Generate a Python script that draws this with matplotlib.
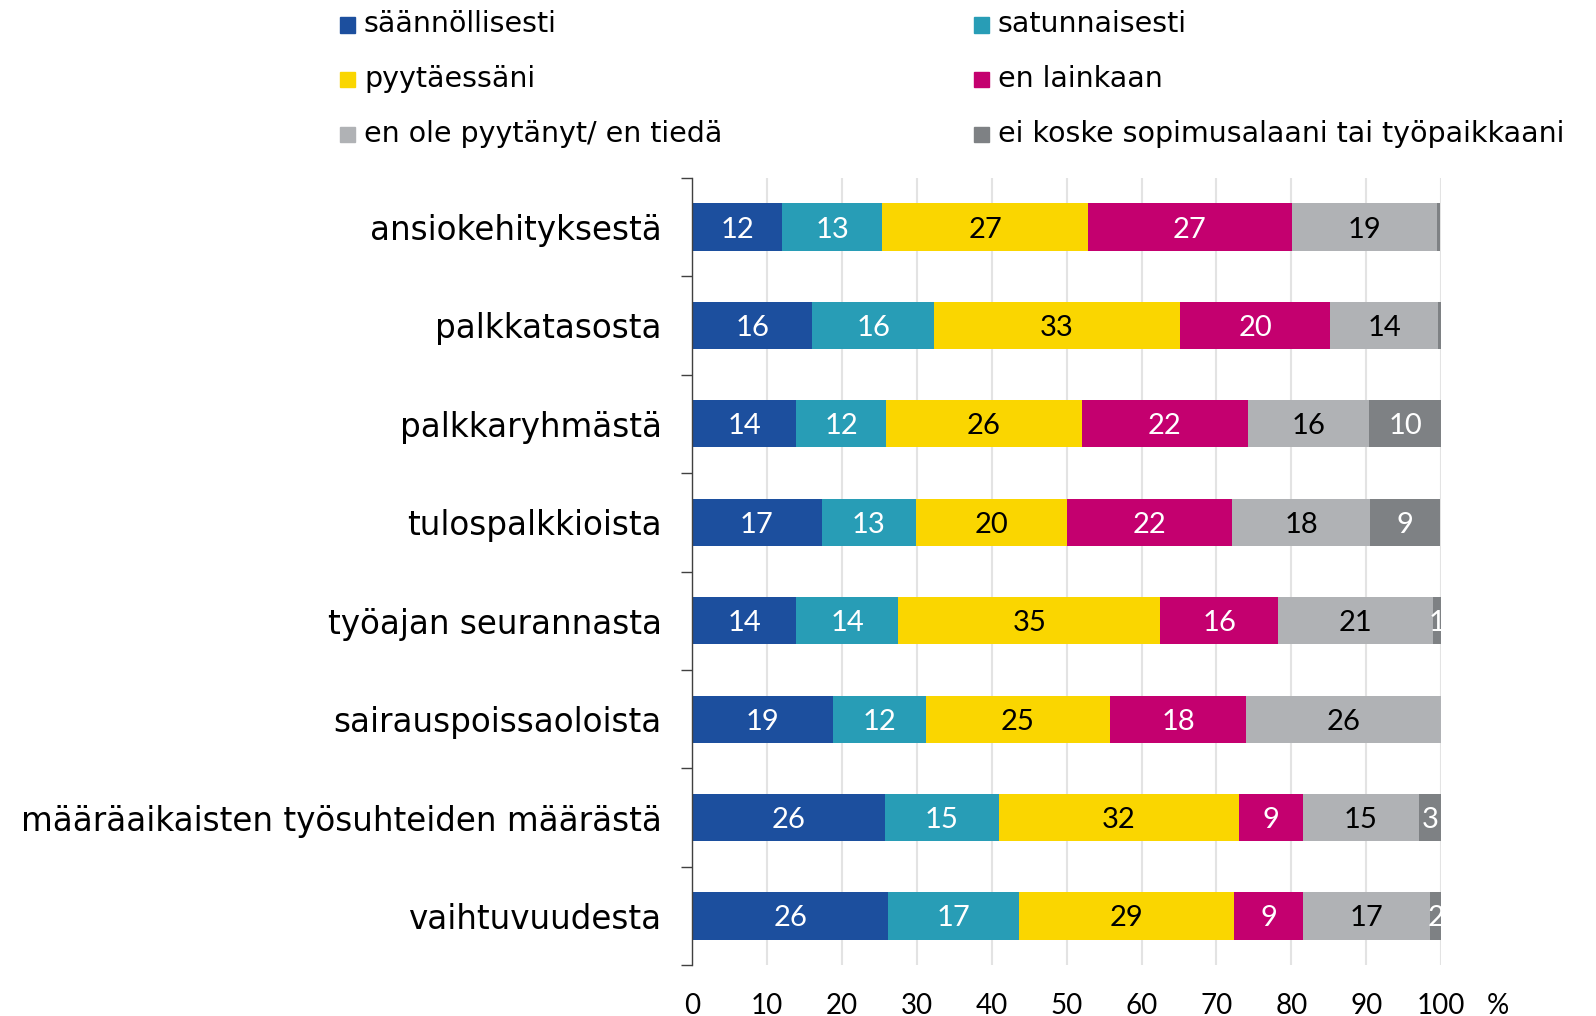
import numpy as np
import matplotlib
matplotlib.use("Agg")
import matplotlib.pyplot as plt
from matplotlib.patches import Rectangle

categories = [
    "ansiokehityksestä",
    "palkkatasosta",
    "palkkaryhmästä",
    "tulospalkkioista",
    "työajan seurannasta",
    "sairauspoissaoloista",
    "määräaikaisten työsuhteiden määrästä",
    "vaihtuvuudesta",
]
series_names = [
    "säännöllisesti",
    "satunnaisesti",
    "pyytäessäni",
    "en lainkaan",
    "en ole pyytänyt/ en tiedä",
    "ei koske sopimusalaani tai työpaikkaani",
]
saannollisesti = [12.0, 16.0, 13.9, 17.3, 13.9, 18.8, 25.7, 26.2]
satunnaisesti = [13.4, 16.3, 12.0, 12.6, 13.6, 12.4, 15.2, 17.4]
pyytaessani = [27.4, 32.8, 26.1, 20.1, 35.0, 24.6, 32.1, 28.8]
en_lainkaan = [27.3, 20.1, 22.2, 22.1, 15.7, 18.2, 8.6, 9.1]
en_ole_pyytanyt = [19.4, 14.4, 16.2, 18.4, 20.7, 26.1, 15.4, 17.0]
ei_koske = [0.4, 0.4, 9.6, 9.4, 1.2, 0.3, 3.0, 1.5]

colors = ["#1c4f9e", "#289db6", "#fad600", "#c4006f", "#b0b2b5", "#7e8184"]
text_colors = ["white", "white", "black", "white", "black", "white"]

series = [saannollisesti, satunnaisesti, pyytaessani, en_lainkaan, en_ole_pyytanyt, ei_koske]

fig = plt.figure(figsize=(15.96, 10.16), dpi=100)
ax = fig.add_axes([0.4337, 0.05, 0.903 - 0.4337, 0.775])

y = np.arange(len(categories))
left = np.zeros(len(categories))
for vals, col, tcol, name in zip(series, colors, text_colors, series_names):
    vals = np.array(vals)
    bars = ax.barh(y, vals, left=left, height=0.48, color=col, zorder=3, label=name)
    labels = [f"{v:.0f}" if round(v) >= 1 else "" for v in vals]
    anns = ax.bar_label(bars, labels=labels, label_type="center", color=tcol,
                        fontsize=21, family="Lato")
    for a in anns:
        a.set_clip_on(True)
        a.set_va("center_baseline")
    left += vals

ax.set_xlim(0, 100)
ax.set_ylim(len(categories) - 0.5, -0.5)
ax.set_xticks(np.arange(0, 101, 10))
ax.set_xticklabels([str(t) for t in range(0, 101, 10)], family="Lato", fontsize=20)
ax.tick_params(axis="x", length=0, pad=20)
ax.set_yticks(y)
ax.set_yticklabels(categories, fontsize=23.5, family="DejaVu Sans")
ax.set_yticks(np.arange(-0.5, len(categories), 1), minor=True)
ax.tick_params(axis="y", which="major", length=0, pad=22)
ax.tick_params(axis="y", which="minor", length=8, width=1, color="#404040", direction="out")
ax.grid(axis="x", color="#e3e3e3", linewidth=1.5, zorder=0)
for s in ["top", "right", "bottom"]:
    ax.spines[s].set_visible(False)
ax.spines["left"].set_color("#404040")
ax.spines["left"].set_linewidth(1)
ax.spines["left"].set_zorder(4)

# percent sign next to the last tick label
ax.annotate("%", xy=(1, 0), xycoords="axes fraction", xytext=(41, -20),
            textcoords="offset points", fontsize=20, family="Lato",
            ha="center", va="top")

# legend in two columns
leg_x = [0.213, 0.610]
leg_y = [0.976, 0.922, 0.868]
for i, (name, col) in enumerate(zip(series_names, colors)):
    r, c = i // 2, i % 2
    fig.patches.append(Rectangle((leg_x[c], leg_y[r] - 0.008), 0.0095, 0.015,
                                 transform=fig.transFigure, color=col, figure=fig))
    fig.text(leg_x[c] + 0.015, leg_y[r], name, fontsize=20.5, va="center", ha="left",
             family="DejaVu Sans")

fig.savefig("out.png", dpi=100)
